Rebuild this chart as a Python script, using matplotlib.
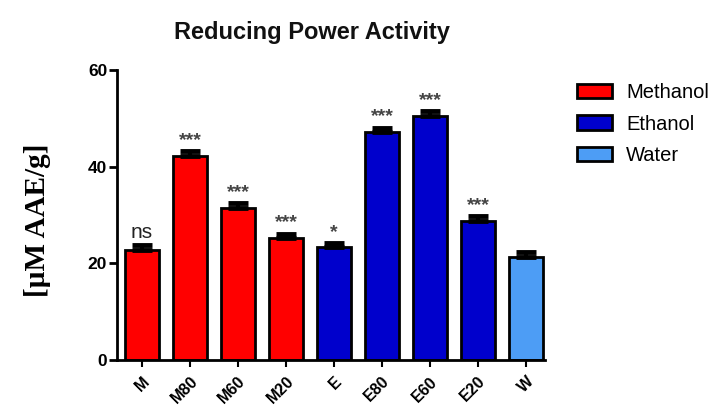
import numpy as np
import matplotlib
matplotlib.use("Agg")
import matplotlib.pyplot as plt
import matplotlib.patches as mpatches

# data
samples = ["M", "M80", "M60", "M20", "E", "E80", "E60", "E20", "W"]
values = [22.8, 42.3, 31.5, 25.2, 23.3, 47.2, 50.6, 28.8, 21.4]
errors = [0.9, 0.9, 0.9, 0.9, 0.9, 0.9, 0.9, 0.9, 0.9]
solvent = ["Methanol"] * 4 + ["Ethanol"] * 4 + ["Water"]
signif = ["ns", "***", "***", "***", "*", "***", "***", "***", ""]

solvent_colors = {"Methanol": "#FF0000", "Ethanol": "#0000CC", "Water": "#4D9DF5"}

plt.rcParams["font.family"] = ["Liberation Sans", "DejaVu Sans"]

fig = plt.figure(figsize=(7.22, 4.2), dpi=100)
ax = fig.add_axes([0.162, 0.143, 0.593, 0.690])

x = np.arange(len(samples))
colors = [solvent_colors[s] for s in solvent]
ax.bar(x, values, width=0.72, color=colors, edgecolor="black", linewidth=2, zorder=2)
ax.errorbar(x, values, yerr=[np.zeros(len(errors)), errors], fmt="none",
            ecolor="black", elinewidth=3, capsize=7, capthick=3.5, zorder=3)

for xi, v, e, s in zip(x, values, errors, signif):
    if not s:
        continue
    if s == "ns":
        ax.text(xi, v + e + 0.8, s, ha="center", va="bottom", fontsize=15, color="#222222")
    else:
        ax.text(xi, v + e + 0.5, s, ha="center", va="bottom", fontsize=14,
                fontweight="bold", color="#444444")

ax.set_xlim(-0.52, 8.4)
ax.set_ylim(0, 60)
ax.set_yticks([0, 20, 40, 60])
ax.set_xticks(x)
ax.set_xticklabels(samples, rotation=45, ha="right", rotation_mode="anchor",
                   fontsize=11.5, fontweight="bold")
for lab in ax.get_yticklabels():
    lab.set_fontweight("bold")
    lab.set_fontsize(12.5)
ax.tick_params(axis="y", direction="out", length=6, width=2, pad=1)
ax.tick_params(axis="x", direction="out", length=5, width=1.5, pad=5)
for side in ["top", "right"]:
    ax.spines[side].set_visible(False)
ax.spines["left"].set_linewidth(2)
ax.spines["bottom"].set_linewidth(2)

fig.text(312 / 722, 1 - 32 / 420, "Reducing Power Activity", ha="center", va="center",
         fontsize=17, fontweight="bold", color="#111111")
fig.text(38 / 722, 1 - 220 / 420, "[µM AAE/g]", ha="center", va="center", rotation=90,
         fontsize=21, fontweight="bold", family=["Liberation Serif", "DejaVu Serif"])

handles = [mpatches.Patch(facecolor=solvent_colors[k], edgecolor="black", linewidth=2, label=k)
           for k in ["Methanol", "Ethanol", "Water"]]
fig.legend(handles=handles, loc="upper left", bbox_to_anchor=(569 / 722, 1 - 75 / 420),
           frameon=False, fontsize=14.5, handlelength=1.75, handleheight=0.75,
           labelspacing=0.62, handletextpad=0.7, borderaxespad=0)

fig.savefig("out.png", dpi=100, facecolor="white")
